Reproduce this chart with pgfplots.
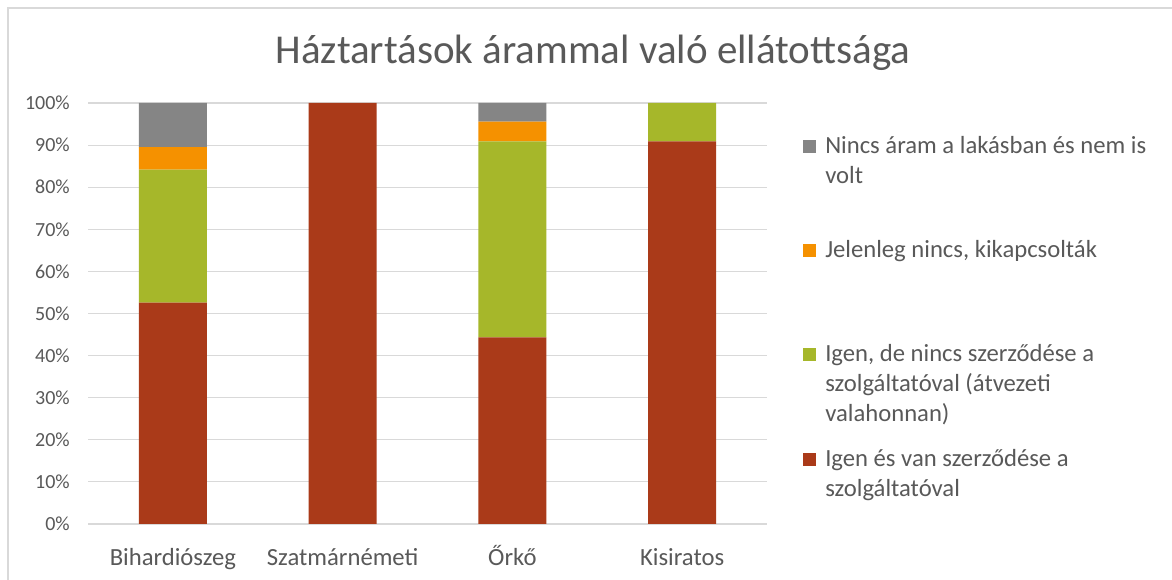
\documentclass[border=0pt]{standalone}
\usepackage{fontspec}
\setmainfont{Carlito}
\usepackage{pgfplots}
\pgfplotsset{compat=1.18}
\definecolor{cgray}{HTML}{858585}
\definecolor{corange}{HTML}{F59100}
\definecolor{cgreen}{HTML}{A6B72A}
\definecolor{cred}{HTML}{AA3A19}
\definecolor{textgray}{HTML}{595959}
\definecolor{gridgray}{HTML}{D9D9D9}
\newcommand{\legfont}{\fontsize{18.5}{22.5}\selectfont}
\begin{document}
\begin{tikzpicture}
\useasboundingbox (0,0) rectangle (879pt,-435pt);
\fill[white] (0,0) rectangle (879pt,-435pt);
\draw[color=gridgray, line width=1.2pt] (6pt,-440pt) -- (6pt,-6pt) -- (885pt,-6pt);
\node[anchor=base, inner sep=0pt, font=\fontsize{30.75}{36}\selectfont, text=textgray] at (444.75pt,-47.5pt) {Háztartások árammal való ellátottsága};
\begin{axis}[
  at={(66pt,-393pt)}, anchor=south west,
  scale only axis, width=509.25pt, height=315.75pt,
  ybar stacked, bar width=51pt,
  xmin=-0.5, xmax=3.5, ymin=0, ymax=100,
  xtick={0,1,2,3},
  xticklabels={Bihardiószeg,Szatmárnémeti,Őrkő,Kisiratos},
  ytick={0,10,...,100},
  yticklabels={0\%,10\%,20\%,30\%,40\%,50\%,60\%,70\%,80\%,90\%,100\%},
  ymajorgrids, grid style={color=gridgray, line width=0.8pt},
  axis line style={draw=none},
  tick style={draw=none},
  xticklabel style={anchor=base, yshift=-31.5pt, font=\fontsize{18.5}{22}\selectfont, text=textgray},
  yticklabel style={anchor=east, inner sep=0pt, xshift=-13.5pt, font=\fontsize{15}{18}\selectfont, text=textgray},
  clip=false,
]
\addplot[fill=cred, draw=none] coordinates {(0,52.6) (1,100) (2,44.3) (3,90.9)};
\addplot[fill=cgreen, draw=none] coordinates {(0,31.6) (1,0) (2,46.6) (3,9.1)};
\addplot[fill=corange, draw=none] coordinates {(0,5.3) (1,0) (2,4.7) (3,0)};
\addplot[fill=cgray, draw=none] coordinates {(0,10.5) (1,0) (2,4.4) (3,0)};
\end{axis}
% legend
\fill[cgray]   (602.25pt,-104.85pt) rectangle (612pt,-114.6pt);
\fill[corange] (602.25pt,-182.85pt) rectangle (612pt,-192.6pt);
\fill[cgreen]  (602.25pt,-261.15pt) rectangle (612pt,-270.9pt);
\fill[cred]    (602.25pt,-339.9pt) rectangle (612pt,-349.65pt);
\begin{scope}[every node/.style={anchor=base west, inner sep=0pt, font=\legfont, text=textgray}]
\node at (618.75pt,-115pt) {Nincs áram a lakásban és nem is};
\node at (618.75pt,-137.5pt) {volt};
\node at (618.75pt,-193pt) {Jelenleg nincs, kikapcsolták};
\node at (618.75pt,-271.3pt) {Igen, de nincs szerződése a};
\node at (618.75pt,-293.8pt) {szolgáltatóval (átvezeti};
\node at (618.75pt,-316.3pt) {valahonnan)};
\node at (618.75pt,-350pt) {Igen és van szerződése a};
\node at (618.75pt,-372.5pt) {szolgáltatóval};
\end{scope}
\end{tikzpicture}
\end{document}
